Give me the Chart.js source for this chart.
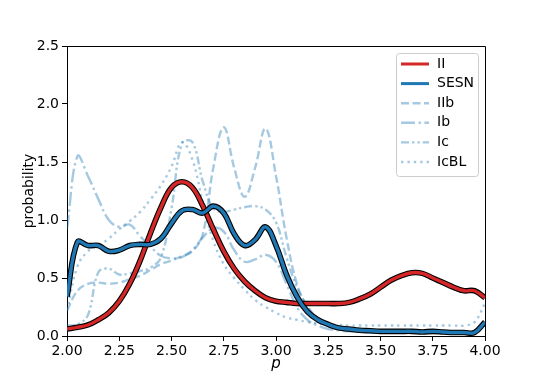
<!DOCTYPE html>
<html>
<head>
<meta charset="utf-8">
<script src="https://cdn.jsdelivr.net/npm/chart.js@4/dist/chart.umd.min.js"></script>
<style>
  body { margin: 0; background: #fff; }
  canvas { display: block; }
</style>
</head>
<body>
<canvas id="chart" width="540" height="378"></canvas>
<script>
// p grid shared by every curve (2.00 .. 4.00, step 0.05)
const pValues = [2.00, 2.05, 2.10, 2.15, 2.20, 2.25, 2.30, 2.35, 2.40, 2.45,
  2.50, 2.55, 2.60, 2.65, 2.70, 2.75, 2.80, 2.85, 2.90, 2.95,
  3.00, 3.05, 3.10, 3.15, 3.20, 3.25, 3.30, 3.35, 3.40, 3.45,
  3.50, 3.55, 3.60, 3.65, 3.70, 3.75, 3.80, 3.85, 3.90, 3.95, 4.00];

const typeII = [0.06, 0.075, 0.095, 0.14, 0.20, 0.30, 0.45, 0.65, 0.89, 1.11,
  1.28, 1.33, 1.28, 1.12, 0.92, 0.73, 0.58, 0.47, 0.39, 0.33,
  0.30, 0.29, 0.28, 0.28, 0.28, 0.28, 0.28, 0.29, 0.32, 0.36,
  0.42, 0.48, 0.52, 0.545, 0.54, 0.50, 0.46, 0.42, 0.39, 0.39, 0.33];

const typeSESN = [0.34, 0.81, 0.78, 0.78, 0.73, 0.74, 0.78, 0.79, 0.79, 0.84,
  0.97, 1.08, 1.09, 1.06, 1.12, 1.06, 0.88, 0.78, 0.83, 0.94,
  0.78, 0.53, 0.34, 0.21, 0.14, 0.10, 0.07, 0.06, 0.05, 0.045,
  0.04, 0.04, 0.04, 0.04, 0.035, 0.04, 0.035, 0.03, 0.03, 0.03, 0.12];

const typeIIb = [0.22, 0.39, 0.45, 0.46, 0.45, 0.46, 0.49, 0.52, 0.57, 0.62,
  0.65, 0.69, 0.73, 0.88, 1.45, 1.80, 1.45, 1.20, 1.45, 1.79,
  1.38, 0.85, 0.45, 0.25, 0.14, 0.09, 0.06, 0.05, 0.04, 0.035,
  0.03, 0.03, 0.03, 0.03, 0.03, 0.03, 0.03, 0.03, 0.03, 0.03, 0.10];

const typeIb = [0.92, 1.55, 1.38, 1.18, 1.00, 0.94, 0.96, 0.86, 0.77, 0.69,
  0.67, 0.68, 0.74, 0.85, 0.93, 0.90, 0.74, 0.64, 0.66, 0.70,
  0.64, 0.45, 0.25, 0.14, 0.09, 0.06, 0.05, 0.04, 0.04, 0.035,
  0.03, 0.03, 0.03, 0.03, 0.03, 0.03, 0.03, 0.03, 0.03, 0.03, 0.10];

const typeIc = [0.09, 0.10, 0.18, 0.55, 0.58, 0.53, 0.54, 0.56, 0.59, 0.68,
  1.10, 1.66, 1.67, 1.33, 1.10, 1.07, 1.09, 1.11, 1.12, 1.09,
  0.98, 0.68, 0.42, 0.26, 0.15, 0.09, 0.06, 0.05, 0.04, 0.035,
  0.03, 0.03, 0.03, 0.03, 0.03, 0.03, 0.03, 0.03, 0.03, 0.03, 0.10];

const typeIcBL = [0.22, 0.60, 0.73, 0.78, 0.84, 0.92, 0.99, 1.07, 1.18, 1.30,
  1.46, 1.67, 1.52, 1.15, 0.82, 0.62, 0.50, 0.40, 0.31, 0.25,
  0.20, 0.16, 0.14, 0.12, 0.11, 0.10, 0.095, 0.09, 0.09, 0.09,
  0.09, 0.09, 0.09, 0.09, 0.09, 0.09, 0.09, 0.09, 0.09, 0.12, 0.28];

const xTicks = [2.00, 2.25, 2.50, 2.75, 3.00, 3.25, 3.50, 3.75, 4.00];
const yTicks = [0.0, 0.5, 1.0, 1.5, 2.0, 2.5];

const RED = "#d62728";
const BLUE = "#1f77b4";
const LIGHT = "rgba(31,119,180,0.4)";

function pts(values) {
  return pValues.map((p, i) => ({ x: p, y: values[i] }));
}

// legend entries in the order shown in the box
const legendItems = [
  { label: "II", color: RED, width: 3, dash: [] },
  { label: "SESN", color: BLUE, width: 3, dash: [] },
  { label: "IIb", color: LIGHT, width: 2.4, dash: [8, 3.5] },
  { label: "Ib", color: LIGHT, width: 2.4, dash: [14, 3.5, 2.4, 3.5] },
  { label: "Ic", color: LIGHT, width: 2.4, dash: [8, 3, 2.4, 3, 2.4, 3] },
  { label: "IcBL", color: LIGHT, width: 2.4, dash: [2.4, 4] }
];

function lineSet(label, values, color, width, dash) {
  return {
    label: label,
    data: pts(values),
    borderColor: color,
    borderWidth: width,
    borderDash: dash,
    pointRadius: 0,
    fill: false,
    tension: 0.4
  };
}

const datasets = [
  lineSet("SESN", typeSESN, BLUE, 3.4, []),
  lineSet("SESN outline", typeSESN, "#000", 5.6, []),
  lineSet("II", typeII, RED, 3.4, []),
  lineSet("II outline", typeII, "#000", 5.6, []),
  lineSet("IIb", typeIIb, LIGHT, 2.4, legendItems[2].dash),
  lineSet("Ib", typeIb, LIGHT, 2.4, legendItems[3].dash),
  lineSet("Ic", typeIc, LIGHT, 2.4, legendItems[4].dash),
  lineSet("IcBL", typeIcBL, LIGHT, 2.4, legendItems[5].dash)
];

const FONT = "'DejaVu Sans', sans-serif";
Chart.defaults.font.family = FONT;
Chart.defaults.font.size = 14;
Chart.defaults.color = "#000";

// top and right spines
const framePlugin = {
  id: "frame",
  afterDatasetsDraw(chart) {
    const { ctx, chartArea: a } = chart;
    ctx.save();
    ctx.strokeStyle = "#000";
    ctx.lineWidth = 1;
    ctx.beginPath();
    ctx.moveTo(a.left, a.top + 0.5);
    ctx.lineTo(a.right + 0.5, a.top + 0.5);
    ctx.lineTo(a.right + 0.5, a.bottom);
    ctx.stroke();
    ctx.restore();
  }
};

const legendPlugin = {
  id: "boxLegend",
  afterDraw(chart) {
    const { ctx, chartArea: a } = chart;
    const x0 = a.right - 89, y0 = a.top + 7;
    const w = 82, h = 123;
    ctx.save();
    ctx.fillStyle = "rgba(255,255,255,0.8)";
    ctx.strokeStyle = "#cccccc";
    ctx.lineWidth = 1;
    ctx.beginPath();
    ctx.roundRect(x0 + 0.5, y0 + 0.5, w, h, 3);
    ctx.fill();
    ctx.stroke();
    ctx.font = "14px " + FONT;
    ctx.textBaseline = "middle";
    legendItems.forEach((item, i) => {
      const y = y0 + 11 + i * 19.6;
      ctx.strokeStyle = item.color;
      ctx.lineWidth = item.width;
      ctx.setLineDash(item.dash);
      ctx.beginPath();
      ctx.moveTo(x0 + 5, y);
      ctx.lineTo(x0 + 33, y);
      ctx.stroke();
      ctx.setLineDash([]);
      ctx.fillStyle = "#000";
      ctx.fillText(item.label, x0 + 41, y);
    });
    ctx.restore();
  }
};

new Chart(document.getElementById("chart"), {
  type: "line",
  data: { datasets: datasets },
  options: {
    responsive: false,
    animation: false,
    devicePixelRatio: 1,
    layout: { padding: { left: 0, right: 55, top: 46, bottom: 0 } },
    plugins: { legend: { display: false }, tooltip: { enabled: false } },
    scales: {
      x: {
        type: "linear",
        min: 2,
        max: 4,
        afterFit: s => { s.height = 42; },
        afterBuildTicks: s => { s.ticks = xTicks.map(v => ({ value: v })); },
        ticks: { maxRotation: 0, autoSkip: false, padding: 2, callback: v => v.toFixed(2) },
        grid: { drawOnChartArea: false, drawTicks: true, tickLength: 5, color: "#000" },
        border: { color: "#000", width: 1 },
        title: { display: true, text: "p", font: { size: 15, style: "italic" }, padding: { top: 0, bottom: 5 } }
      },
      y: {
        min: 0,
        max: 2.5,
        afterFit: s => { s.width = 67; },
        afterBuildTicks: s => { s.ticks = yTicks.map(v => ({ value: v })); },
        ticks: { padding: 3, callback: v => v.toFixed(1) },
        grid: { drawOnChartArea: false, drawTicks: true, tickLength: 5, color: "#000" },
        border: { color: "#000", width: 1 },
        title: { display: true, text: "probability", font: { size: 14 }, padding: { top: 21, bottom: 0 } }
      }
    }
  },
  plugins: [framePlugin, legendPlugin]
});
</script>
</body>
</html>
